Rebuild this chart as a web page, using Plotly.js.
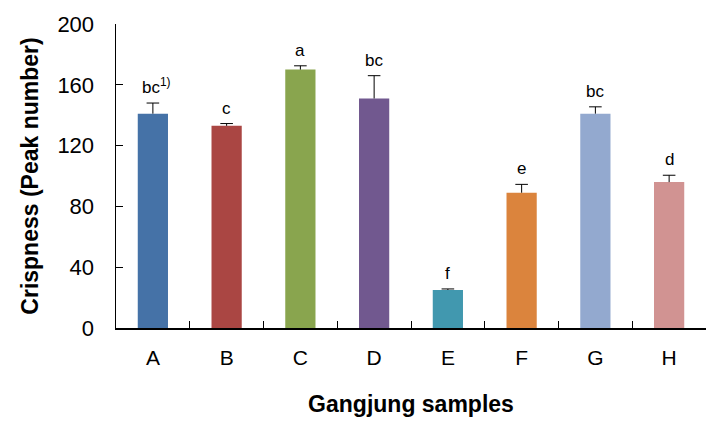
<!DOCTYPE html>
<html><head><meta charset="utf-8">
<script src="https://cdn.plot.ly/plotly-3.0.1.min.js"></script>
<style>html,body{margin:0;padding:0;background:#fff}</style>
</head><body>
<div id="chart" style="width:720px;height:433px"></div>
<script>
const categories = ["A","B","C","D","E","F","G","H"];
const values = [141, 133, 170, 151, 25, 89, 141, 96];
const errors = [7, 1.5, 2.5, 15, 0.7, 5.5, 4.5, 4.5];
const letters = ["bc<sup>1)</sup>","c","a","bc","f","e","bc","d"];
const colors = ["#4572A7","#AA4643","#89A54E","#71588F","#4198AF","#DB843D","#93A9CF","#D19392"];

const tops = values.map((v,i)=>v+errors[i]);
const bars = {
  type: "bar", x: categories, y: values,
  marker: {color: colors, line: {width: 0}},
  width: 0.41,
  error_y: {type: "data", array: errors, arrayminus: errors.map(()=>0), symmetric: false,
            color: "#000", thickness: 1, width: 0},
  hoverinfo: "none"
};
const caps = {
  type: "scatter", mode: "markers", x: categories, y: tops,
  marker: {symbol: "line-ew", size: 9, line: {color: "#000", width: 1}},
  hoverinfo: "none", cliponaxis: false
};
const annotations = categories.map((c,i)=>({
  x: c, y: tops[i], text: letters[i], showarrow: false,
  yanchor: "bottom", yshift: 4, xshift: (i===0?4:0),
  font: {family: "Arial, Liberation Sans, sans-serif", size: 17, color: "#000"}
}));
const layout = {
  width: 720, height: 433,
  margin: {l: 116, r: 14, t: 24, b: 105},
  paper_bgcolor: "#fff", plot_bgcolor: "#fff",
  showlegend: false, bargap: 0.59,
  font: {family: "Arial, Liberation Sans, sans-serif", color: "#000"},
  xaxis: {
    type: "category", showline: true, linecolor: "#000", linewidth: 1.5,
    ticks: "inside", ticklen: 7, tickcolor: "#000", tickson: "boundaries",
    tickfont: {size: 21}, ticklabelstandoff: 10, showgrid: false, zeroline: false,
    title: {text: "<b>Gangjung samples</b>", font: {size: 23}, standoff: 28}
  },
  yaxis: {
    range: [0, 200], dtick: 40, showline: true, linecolor: "#000", linewidth: 1.5,
    ticks: "inside", ticklen: 7, tickcolor: "#000", showgrid: false, zeroline: false,
    tickfont: {size: 22}, ticklabelstandoff: 16,
    title: {text: "<b>Crispness (Peak number)</b>", font: {size: 23}, standoff: 12}
  },
  annotations: annotations
};
Plotly.newPlot("chart", [bars, caps], layout, {displayModeBar: false, staticPlot: true});
</script>
</body></html>
